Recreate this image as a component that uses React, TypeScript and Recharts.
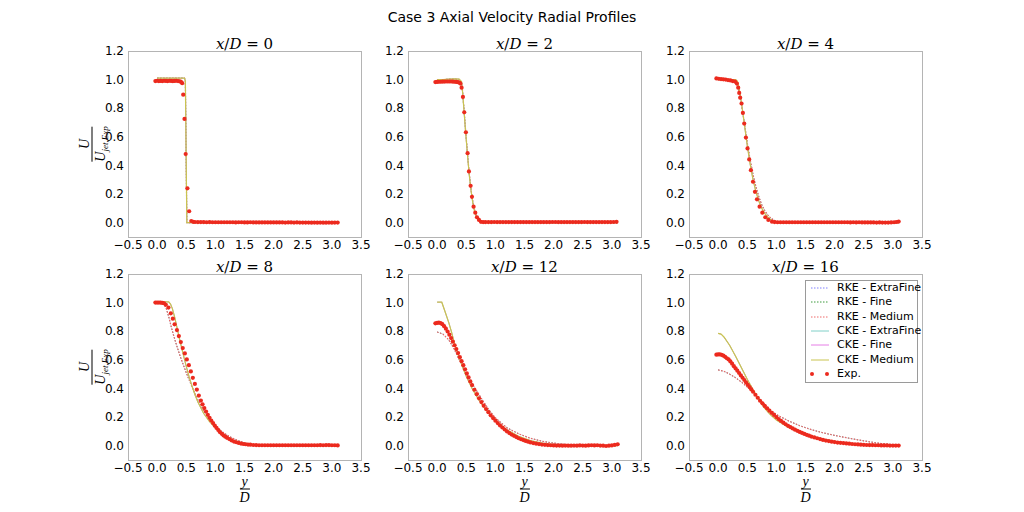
import { LineChart, Line, XAxis, YAxis } from 'recharts';

type Pt = [number, number];

const TITLE = 'Case 3 Axial Velocity Radial Profiles';
const STATIONS = [0, 2, 4, 8, 12, 16];
const X_TICKS = [-0.5, 0, 0.5, 1, 1.5, 2, 2.5, 3, 3.5];
const Y_TICKS = [0, 0.2, 0.4, 0.6, 0.8, 1.0, 1.2];
const X_DOMAIN: [number, number] = [-0.5, 3.5];
const Y_DOMAIN: [number, number] = [-0.1, 1.2];

// RKE / CKE model profiles (all three grids sit on top of each other in the picture)
const RKE_0: Pt[] = [[0, 1.01], [0.47, 1.01], [0.485, 0.99], [0.51, 0.0], [3.1, 0.0]];
const CKE_0: Pt[] = [[0, 1.01], [0.47, 1.01], [0.485, 0.99], [0.51, 0.0], [3.1, 0.0]];

const RKE_2: Pt[] = [
  [0, 1.0], [0.1, 1.0], [0.2, 1.003], [0.3, 1.004], [0.38, 1.0], [0.4, 0.995], [0.43, 0.95],
  [0.46, 0.8], [0.49, 0.64], [0.52, 0.49], [0.55, 0.35], [0.58, 0.24], [0.61, 0.155],
  [0.64, 0.095], [0.67, 0.055], [0.7, 0.03], [0.74, 0.012], [0.8, 0.003], [0.9, 0], [3.1, 0],
];
const CKE_2: Pt[] = [
  [0, 1.0], [0.1, 1.0], [0.2, 1.003], [0.3, 1.005], [0.38, 1.003], [0.42, 0.985], [0.44, 0.9],
  [0.46, 0.79], [0.49, 0.63], [0.52, 0.48], [0.55, 0.34], [0.58, 0.23], [0.61, 0.145],
  [0.64, 0.085], [0.67, 0.045], [0.7, 0.022], [0.74, 0.008], [0.8, 0.001], [0.9, 0], [3.1, 0],
];

const RKE_4: Pt[] = [
  [0, 1.0], [0.25, 1.0], [0.3, 0.99], [0.34, 0.95], [0.38, 0.87], [0.42, 0.78], [0.46, 0.67],
  [0.5, 0.56], [0.55, 0.44], [0.6, 0.335], [0.65, 0.25], [0.7, 0.18], [0.75, 0.125],
  [0.8, 0.085], [0.85, 0.055], [0.9, 0.034], [0.95, 0.02], [1.0, 0.01], [1.05, 0.005],
  [1.1, 0.002], [1.2, 0], [3.1, 0],
];
const CKE_4: Pt[] = [
  [0, 1.0], [0.1, 1.0], [0.2, 1.0], [0.3, 1.0], [0.33, 0.99], [0.36, 0.94], [0.4, 0.84],
  [0.45, 0.69], [0.5, 0.54], [0.55, 0.41], [0.6, 0.3], [0.65, 0.215], [0.7, 0.15], [0.75, 0.1],
  [0.8, 0.065], [0.85, 0.04], [0.9, 0.022], [0.95, 0.01], [1.0, 0.004], [1.05, 0.001],
  [1.1, 0], [3.1, 0],
];

const RKE_8: Pt[] = [
  [0, 1.0], [0.08, 0.998], [0.12, 0.99], [0.16, 0.955], [0.2, 0.9], [0.24, 0.835], [0.28, 0.775],
  [0.32, 0.72], [0.36, 0.67], [0.4, 0.62], [0.45, 0.565], [0.5, 0.51], [0.55, 0.46], [0.6, 0.41],
  [0.7, 0.32], [0.8, 0.245], [0.9, 0.185], [1.0, 0.14], [1.1, 0.103], [1.2, 0.074], [1.3, 0.052],
  [1.4, 0.034], [1.5, 0.02], [1.6, 0.01], [1.7, 0.004], [1.8, 0.001], [1.9, 0], [3.1, 0],
];
const CKE_8: Pt[] = [
  [0, 1.005], [0.2, 1.005], [0.23, 0.99], [0.26, 0.96], [0.3, 0.9], [0.35, 0.81], [0.4, 0.72],
  [0.45, 0.635], [0.5, 0.555], [0.55, 0.48], [0.6, 0.415], [0.65, 0.355], [0.7, 0.305], [0.8, 0.225],
  [0.9, 0.168], [1.0, 0.125], [1.1, 0.088], [1.2, 0.06], [1.3, 0.04], [1.4, 0.025], [1.5, 0.014],
  [1.6, 0.007], [1.7, 0.002], [1.8, 0], [3.1, 0],
];

const RKE_12: Pt[] = [
  [0, 0.795], [0.1, 0.78], [0.2, 0.74], [0.3, 0.67], [0.4, 0.585], [0.5, 0.505], [0.6, 0.435],
  [0.7, 0.37], [0.8, 0.305], [0.9, 0.245], [1.0, 0.195], [1.2, 0.125], [1.4, 0.083], [1.6, 0.052],
  [1.8, 0.031], [2.0, 0.018], [2.2, 0.009], [2.4, 0.004], [2.6, 0.001], [2.8, 0], [3.1, 0],
];
const CKE_12: Pt[] = [
  [0, 1.003], [0.08, 1.003], [0.15, 0.92], [0.2, 0.86], [0.25, 0.79], [0.3, 0.71], [0.35, 0.65],
  [0.4, 0.59], [0.45, 0.535], [0.5, 0.485], [0.6, 0.4], [0.7, 0.33], [0.8, 0.27], [0.9, 0.22],
  [1.0, 0.175], [1.2, 0.11], [1.4, 0.065], [1.6, 0.035], [1.8, 0.018], [2.0, 0.008], [2.2, 0.003],
  [2.4, 0], [3.1, 0],
];

const RKE_16: Pt[] = [
  [0, 0.53], [0.1, 0.52], [0.2, 0.5], [0.3, 0.475], [0.4, 0.445], [0.5, 0.41], [0.6, 0.375],
  [0.7, 0.33], [0.8, 0.29], [0.9, 0.25], [1.0, 0.218], [1.2, 0.175], [1.4, 0.14], [1.6, 0.112],
  [1.8, 0.09], [2.0, 0.072], [2.2, 0.056], [2.4, 0.041], [2.6, 0.027], [2.8, 0.015], [3.0, 0.007],
  [3.1, 0.004],
];
const CKE_16: Pt[] = [
  [0, 0.785], [0.05, 0.78], [0.1, 0.76], [0.2, 0.7], [0.3, 0.625], [0.4, 0.545], [0.5, 0.465],
  [0.6, 0.39], [0.7, 0.32], [0.8, 0.26], [0.9, 0.215], [1.0, 0.18], [1.2, 0.13], [1.4, 0.095],
  [1.6, 0.068], [1.8, 0.047], [2.0, 0.031], [2.2, 0.019], [2.4, 0.011], [2.6, 0.006], [2.8, 0.003],
  [3.1, 0.0],
];

// experimental points
const EXP_0: Pt[] = [
  [-0.03, 0.99], [0.0, 0.992], [0.03, 0.99], [0.06, 0.991], [0.09, 0.99], [0.12, 0.992], [0.15, 0.991],
  [0.18, 0.99], [0.21, 0.992], [0.24, 0.991], [0.27, 0.99], [0.3, 0.991], [0.33, 0.992], [0.36, 0.99],
  [0.39, 0.988], [0.41, 0.985], [0.43, 0.975], [0.448, 0.895], [0.47, 0.725], [0.49, 0.48],
  [0.52, 0.24], [0.55, 0.08], [0.586, 0.012], [0.62, 0.006], [0.65, 0.005], [0.7, 0.004],
  [0.75, 0.004], [0.8, 0.004], [0.85, 0.003], [0.9, 0.004], [0.95, 0.003], [1.0, 0.003],
  [1.05, 0.003], [1.1, 0.003], [1.15, 0.003], [1.2, 0.003], [1.25, 0.003], [1.3, 0.003],
  [1.35, 0.002], [1.4, 0.003], [1.45, 0.003], [1.5, 0.002], [1.55, 0.002], [1.6, 0.003],
  [1.65, 0.002], [1.7, 0.002], [1.75, 0.002], [1.8, 0.002], [1.85, 0.002], [1.9, 0.002],
  [1.95, 0.002], [2.0, 0.002], [2.05, 0.002], [2.1, 0.002], [2.15, 0.002], [2.2, 0.001],
  [2.25, 0.002], [2.3, 0.002], [2.35, 0.001], [2.4, 0.002], [2.45, 0.001], [2.5, 0.001],
  [2.55, 0.001], [2.6, 0.001], [2.65, 0.0], [2.7, 0.001], [2.75, 0.0], [2.8, 0.001], [2.85, 0.0],
  [2.9, 0.0], [2.95, 0.001], [3.0, 0.0], [3.05, 0.001], [3.1, 0.001],
];

const EXP_2: Pt[] = [
  [-0.03, 0.983], [0.0, 0.984], [0.03, 0.985], [0.06, 0.985], [0.09, 0.986], [0.12, 0.986],
  [0.15, 0.987], [0.18, 0.987], [0.21, 0.987], [0.24, 0.987], [0.27, 0.986], [0.3, 0.985],
  [0.33, 0.984], [0.36, 0.982], [0.385, 0.978], [0.4, 0.972], [0.42, 0.944], [0.443, 0.879],
  [0.466, 0.772], [0.494, 0.632], [0.523, 0.486], [0.546, 0.358], [0.575, 0.258], [0.598, 0.181],
  [0.626, 0.112], [0.655, 0.07], [0.684, 0.038], [0.718, 0.019], [0.752, 0.006], [0.79, 0.004],
  [0.83, 0.004], [0.88, 0.004], [0.93, 0.004], [0.98, 0.005], [1.03, 0.004], [1.08, 0.004],
  [1.13, 0.004], [1.18, 0.004], [1.23, 0.004], [1.28, 0.004], [1.33, 0.004], [1.38, 0.004],
  [1.43, 0.004], [1.48, 0.004], [1.53, 0.004], [1.58, 0.004], [1.63, 0.004], [1.68, 0.004],
  [1.73, 0.004], [1.78, 0.004], [1.83, 0.004], [1.88, 0.004], [1.93, 0.004], [1.98, 0.005],
  [2.03, 0.005], [2.08, 0.004], [2.13, 0.004], [2.18, 0.004], [2.23, 0.004], [2.28, 0.004],
  [2.33, 0.004], [2.38, 0.004], [2.43, 0.004], [2.48, 0.004], [2.53, 0.005], [2.58, 0.004],
  [2.63, 0.004], [2.68, 0.004], [2.73, 0.004], [2.78, 0.004], [2.83, 0.004], [2.88, 0.004],
  [2.93, 0.004], [2.98, 0.004], [3.03, 0.005], [3.08, 0.006],
];

const EXP_4: Pt[] = [
  [-0.03, 1.008], [0.01, 1.006], [0.05, 1.004], [0.09, 1.002], [0.13, 1.0], [0.17, 0.997],
  [0.21, 0.994], [0.25, 0.99], [0.29, 0.986], [0.322, 0.972], [0.345, 0.944], [0.362, 0.907],
  [0.379, 0.874], [0.402, 0.833], [0.425, 0.767], [0.448, 0.693], [0.477, 0.595], [0.505, 0.519],
  [0.534, 0.442], [0.563, 0.367], [0.598, 0.286], [0.632, 0.216], [0.667, 0.163], [0.712, 0.112],
  [0.759, 0.07], [0.81, 0.038], [0.862, 0.019], [0.925, 0.007], [0.97, 0.004], [1.02, 0.003],
  [1.07, 0.003], [1.12, 0.003], [1.17, 0.003], [1.22, 0.003], [1.27, 0.003], [1.32, 0.003],
  [1.37, 0.003], [1.42, 0.003], [1.47, 0.003], [1.52, 0.003], [1.57, 0.003], [1.62, 0.003],
  [1.67, 0.003], [1.72, 0.003], [1.77, 0.003], [1.82, 0.003], [1.87, 0.003], [1.92, 0.003],
  [1.97, 0.003], [2.02, 0.003], [2.07, 0.003], [2.12, 0.003], [2.17, 0.003], [2.22, 0.003],
  [2.27, 0.002], [2.32, 0.003], [2.37, 0.002], [2.42, 0.003], [2.47, 0.002], [2.52, 0.002],
  [2.57, 0.002], [2.62, 0.002], [2.67, 0.002], [2.72, 0.001], [2.77, 0.002], [2.82, 0.001],
  [2.87, 0.001], [2.92, 0.001], [2.97, 0.002], [3.02, 0.003], [3.06, 0.005], [3.1, 0.008],
];

const EXP_8: Pt[] = [
  [-0.03, 1.0], [0.0, 1.0], [0.03, 1.0], [0.06, 1.0], [0.09, 0.998], [0.12, 0.995], [0.15, 0.985],
  [0.195, 0.965], [0.235, 0.925], [0.27, 0.888], [0.3, 0.848], [0.34, 0.808], [0.373, 0.766],
  [0.407, 0.724], [0.44, 0.682], [0.476, 0.645], [0.51, 0.603], [0.545, 0.563], [0.579, 0.519],
  [0.613, 0.474], [0.648, 0.432], [0.682, 0.392], [0.716, 0.35], [0.751, 0.315], [0.78, 0.289],
  [0.81, 0.263], [0.84, 0.239], [0.87, 0.216], [0.9, 0.195], [0.93, 0.176], [0.96, 0.158],
  [0.99, 0.14], [1.02, 0.124], [1.05, 0.109], [1.08, 0.094], [1.11, 0.083], [1.14, 0.072],
  [1.17, 0.063], [1.2, 0.055], [1.24, 0.046], [1.28, 0.037], [1.32, 0.029], [1.36, 0.024],
  [1.4, 0.019], [1.44, 0.015], [1.48, 0.012], [1.52, 0.01], [1.56, 0.008], [1.6, 0.007],
  [1.65, 0.005], [1.7, 0.004], [1.75, 0.003], [1.8, 0.003], [1.85, 0.003], [1.9, 0.003],
  [1.95, 0.003], [2.0, 0.003], [2.05, 0.003], [2.1, 0.003], [2.15, 0.003], [2.2, 0.003],
  [2.25, 0.003], [2.3, 0.003], [2.35, 0.003], [2.4, 0.003], [2.45, 0.003], [2.5, 0.003],
  [2.55, 0.003], [2.6, 0.003], [2.65, 0.003], [2.7, 0.003], [2.75, 0.003], [2.8, 0.004],
  [2.85, 0.003], [2.9, 0.004], [2.95, 0.004], [3.0, 0.003], [3.05, 0.003], [3.1, 0.002],
];

const EXP_12: Pt[] = [
  [-0.03, 0.855], [0.0, 0.858], [0.03, 0.86], [0.06, 0.857], [0.09, 0.849], [0.12, 0.835],
  [0.15, 0.818], [0.18, 0.798], [0.21, 0.776], [0.24, 0.752], [0.27, 0.728], [0.3, 0.702],
  [0.33, 0.675], [0.36, 0.647], [0.39, 0.619], [0.42, 0.591], [0.45, 0.563], [0.48, 0.534],
  [0.51, 0.505], [0.54, 0.477], [0.57, 0.449], [0.6, 0.424], [0.64, 0.391], [0.68, 0.36],
  [0.72, 0.331], [0.76, 0.305], [0.8, 0.28], [0.84, 0.256], [0.88, 0.234], [0.92, 0.212],
  [0.96, 0.193], [1.0, 0.175], [1.04, 0.158], [1.08, 0.142], [1.12, 0.127], [1.16, 0.113],
  [1.2, 0.1], [1.24, 0.088], [1.28, 0.078], [1.32, 0.069], [1.36, 0.06], [1.4, 0.052],
  [1.44, 0.045], [1.48, 0.039], [1.52, 0.033], [1.56, 0.028], [1.6, 0.023], [1.65, 0.018],
  [1.7, 0.014], [1.75, 0.011], [1.8, 0.008], [1.85, 0.006], [1.9, 0.004], [1.95, 0.003],
  [2.0, 0.002], [2.05, 0.001], [2.1, 0.001], [2.15, 0.0], [2.2, 0.001], [2.25, 0.0], [2.3, 0.0],
  [2.35, 0.001], [2.4, 0.0], [2.45, 0.002], [2.5, 0.001], [2.55, 0.0], [2.6, 0.002], [2.65, 0.003],
  [2.7, 0.002], [2.75, 0.003], [2.8, 0.001], [2.85, 0.0], [2.9, -0.002], [2.95, 0.0], [3.0, 0.002],
  [3.05, 0.006], [3.1, 0.01],
];

const EXP_16: Pt[] = [
  [-0.03, 0.636], [0.0, 0.638], [0.03, 0.638], [0.06, 0.635], [0.09, 0.629], [0.12, 0.621],
  [0.15, 0.611], [0.18, 0.603], [0.21, 0.589], [0.24, 0.573], [0.27, 0.556], [0.3, 0.54],
  [0.33, 0.524], [0.36, 0.508], [0.39, 0.491], [0.42, 0.475], [0.45, 0.459], [0.48, 0.442],
  [0.51, 0.426], [0.54, 0.41], [0.57, 0.393], [0.6, 0.377], [0.64, 0.356], [0.68, 0.335],
  [0.72, 0.314], [0.76, 0.296], [0.8, 0.278], [0.84, 0.261], [0.88, 0.245], [0.92, 0.23],
  [0.96, 0.215], [1.0, 0.2], [1.04, 0.186], [1.08, 0.173], [1.12, 0.161], [1.16, 0.15],
  [1.2, 0.139], [1.24, 0.13], [1.28, 0.121], [1.32, 0.112], [1.36, 0.104], [1.4, 0.096],
  [1.44, 0.089], [1.48, 0.082], [1.52, 0.076], [1.56, 0.07], [1.6, 0.064], [1.65, 0.058],
  [1.7, 0.052], [1.75, 0.046], [1.8, 0.04], [1.85, 0.036], [1.9, 0.032], [1.95, 0.028],
  [2.0, 0.025], [2.05, 0.022], [2.1, 0.02], [2.15, 0.018], [2.2, 0.016], [2.25, 0.014],
  [2.3, 0.012], [2.35, 0.01], [2.4, 0.009], [2.45, 0.007], [2.5, 0.006], [2.55, 0.005],
  [2.6, 0.004], [2.65, 0.004], [2.7, 0.003], [2.75, 0.003], [2.8, 0.002], [2.85, 0.002],
  [2.9, 0.002], [2.95, 0.001], [3.0, 0.001], [3.05, 0.001], [3.1, 0.001],
];

const RKE = [RKE_0, RKE_2, RKE_4, RKE_8, RKE_12, RKE_16];
const CKE = [CKE_0, CKE_2, CKE_4, CKE_8, CKE_12, CKE_16];
const EXP = [EXP_0, EXP_2, EXP_4, EXP_8, EXP_12, EXP_16];

// the ExtraFine / Fine curves are hidden under the Medium ones, so they get a thinner stroke
const SERIES = [
  { name: 'RKE - ExtraFine', model: 'RKE', color: '#8080ff', dotted: true, width: 0.6 },
  { name: 'RKE - Fine', model: 'RKE', color: '#3c9a3c', dotted: true, width: 0.6 },
  { name: 'RKE - Medium', model: 'RKE', color: '#ee6a6a', dotted: true, width: 1.2 },
  { name: 'CKE - ExtraFine', model: 'CKE', color: '#80d0c8', dotted: false, width: 0.6 },
  { name: 'CKE - Fine', model: 'CKE', color: '#e67fe6', dotted: false, width: 0.6 },
  { name: 'CKE - Medium', model: 'CKE', color: '#c9c450', dotted: false, width: 1.2 },
];
const EXP_NAME = 'Exp.';
const EXP_COLOR = '#ec2a1e';

// layout of the 2x3 grid
const COL_LEFT = [128, 408, 689];
const ROW_TOP = [51, 274];
const PLOT_W = 233;
const PLOT_H = 186;
const PAD_L = 50;
const PAD_T = 20;
const PAD_R = 10;
const PAD_B = 25;

const SANS = '"DejaVu Sans", sans-serif';
const SERIF = '"DejaVu Serif", serif';
const LABEL_SERIF = '"Liberation Serif", serif';
const FRAME = '#b4b4b4';

const to_rows = (pts: Pt[]) => pts.map(([x, y]) => ({ x, y }));
const fmt_x = (v: number) => (v < 0 ? `\u2212${Math.abs(v).toFixed(1)}` : v.toFixed(1));
const fmt_y = (v: number) => v.toFixed(1);

function Panel({ index }: { index: number }) {
  const row = Math.floor(index / 3);
  const col = index % 3;
  const rke = to_rows(RKE[index]);
  const cke = to_rows(CKE[index]);
  const exp = to_rows(EXP[index]);
  const tick_style = { fill: '#000', fontSize: 12, fontFamily: SANS };
  const tick_line = { stroke: FRAME, strokeWidth: 1 };

  return (
    <div style={{ position: 'absolute', left: COL_LEFT[col] - PAD_L, top: ROW_TOP[row] - PAD_T }}>
      <LineChart
        width={PLOT_W + PAD_L + PAD_R}
        height={PLOT_H + PAD_T + PAD_B}
        margin={{ top: PAD_T, right: PAD_R, bottom: 0, left: 0 }}
      >
        <XAxis
          dataKey="x"
          type="number"
          domain={X_DOMAIN}
          ticks={X_TICKS}
          interval={0}
          allowDataOverflow
          height={PAD_B}
          axisLine={false}
          tickLine={false}
          tickSize={0}
          tickMargin={3}
          tick={tick_style}
          tickFormatter={fmt_x}
        />
        <YAxis
          type="number"
          domain={Y_DOMAIN}
          ticks={Y_TICKS}
          interval={0}
          allowDataOverflow
          width={PAD_L}
          axisLine={false}
          tickLine={false}
          tickSize={0}
          tickMargin={4}
          tick={tick_style}
          tickFormatter={fmt_y}
        />
        {/* inward tick marks on all four sides, matplotlib classic style */}
        {(['bottom', 'top'] as const).map((side) => (
          <XAxis
            key={side}
            xAxisId={`tick_${side}`}
            orientation={side}
            mirror
            type="number"
            domain={X_DOMAIN}
            ticks={X_TICKS}
            interval={0}
            allowDataOverflow
            axisLine={false}
            tickLine={tick_line}
            tickSize={4}
            tick={false}
          />
        ))}
        {(['left', 'right'] as const).map((side) => (
          <YAxis
            key={side}
            yAxisId={`tick_${side}`}
            orientation={side}
            mirror
            type="number"
            domain={Y_DOMAIN}
            ticks={Y_TICKS}
            interval={0}
            allowDataOverflow
            axisLine={false}
            tickLine={tick_line}
            tickSize={4}
            tick={false}
          />
        ))}
        {SERIES.map((s) => (
          <Line
            key={s.name}
            data={s.model === 'RKE' ? rke : cke}
            dataKey="y"
            type="linear"
            stroke={s.color}
            strokeWidth={s.width}
            strokeDasharray={s.dotted ? '1.5 1.5' : undefined}
            dot={false}
            activeDot={false}
            isAnimationActive={false}
          />
        ))}
        <Line
          data={exp}
          dataKey="y"
          stroke="none"
          dot={{ r: 2.1, fill: EXP_COLOR, stroke: 'none' }}
          activeDot={false}
          isAnimationActive={false}
        />
      </LineChart>
      {/* axes frame */}
      <div
        style={{
          position: 'absolute',
          left: PAD_L,
          top: PAD_T,
          width: PLOT_W + 1,
          height: PLOT_H + 1,
          boxSizing: 'border-box',
          border: `1px solid ${FRAME}`,
          pointerEvents: 'none',
        }}
      />
    </div>
  );
}

function Frac({ num, den, cx, cy, rotate }: { num: React.ReactNode; den: React.ReactNode; cx: number; cy: number; rotate?: boolean }) {
  return (
    <div
      style={{
        position: 'absolute',
        left: cx,
        top: cy,
        transform: `translate(-50%, -50%)${rotate ? ' rotate(-90deg)' : ''}`,
        display: 'flex',
        flexDirection: 'column',
        alignItems: 'center',
        fontFamily: LABEL_SERIF,
        fontStyle: 'italic',
        fontSize: 14,
        lineHeight: '11px',
        whiteSpace: 'nowrap',
      }}
    >
      <div style={{ paddingBottom: 2 }}>{num}</div>
      <div style={{ alignSelf: 'stretch', borderTop: '1px solid #000' }} />
      <div style={{ paddingTop: 2 }}>{den}</div>
    </div>
  );
}

function LegendBox() {
  return (
    <div
      style={{
        position: 'absolute',
        left: 805,
        top: 280,
        width: 113,
        height: 103,
        boxSizing: 'border-box',
        border: '1px solid #9a9a9a',
        background: '#fff',
        fontFamily: SANS,
        fontSize: 11,
        whiteSpace: 'nowrap',
      }}
    >
      {[...SERIES.map((s) => s.name), EXP_NAME].map((name, i) => {
        const s = SERIES[i];
        return (
          <div key={name} style={{ position: 'absolute', left: 0, top: i * 14.3, height: 14.3, width: '100%' }}>
            <svg width={24} height={14} style={{ position: 'absolute', left: 3, top: 0 }}>
              {s ? (
                <line
                  x1={2}
                  x2={20}
                  y1={7}
                  y2={7}
                  stroke={s.color}
                  strokeWidth={1}
                  strokeDasharray={s.dotted ? '1.5 1.5' : undefined}
                />
              ) : (
                <>
                  <circle cx={3} cy={7} r={2} fill={EXP_COLOR} />
                  <circle cx={18} cy={7} r={2} fill={EXP_COLOR} />
                </>
              )}
            </svg>
            <span style={{ position: 'absolute', left: 31, top: 0, lineHeight: '14px' }}>{name}</span>
          </div>
        );
      })}
    </div>
  );
}

export default function App() {
  return (
    <div style={{ position: 'absolute', left: 0, top: 0, width: 1024, height: 512, background: '#fff', overflow: 'hidden' }}>
      <div
        style={{
          position: 'absolute',
          left: 0,
          top: 8,
          width: 1024,
          textAlign: 'center',
          fontFamily: SANS,
          fontSize: 14,
          lineHeight: '18px',
        }}
      >
        {TITLE}
      </div>
      {STATIONS.map((st, i) => {
        const col = i % 3;
        const row = Math.floor(i / 3);
        return (
          <div key={`t${st}`}>
            <Panel index={i} />
            <div
              style={{
                position: 'absolute',
                left: COL_LEFT[col],
                width: PLOT_W,
                top: ROW_TOP[row] - 16,
                textAlign: 'center',
                fontFamily: SERIF,
                fontSize: 15,
                lineHeight: '18px',
                whiteSpace: 'nowrap',
              }}
            >
              <i>x</i>/<i>D</i> = {st}
            </div>
          </div>
        );
      })}
      {ROW_TOP.map((top) => (
        <Frac
          key={`yl${top}`}
          rotate
          cx={93}
          cy={top + PLOT_H * 0.5}
          num="U"
          den={
            <span>
              U<sub style={{ fontSize: 9, verticalAlign: 'baseline', position: 'relative', top: 3 }}>jet,Exp</sub>
            </span>
          }
        />
      ))}
      {COL_LEFT.map((left) => (
        <Frac key={`xl${left}`} cx={left + PLOT_W / 2} cy={489} num="y" den="D" />
      ))}
      <LegendBox />
    </div>
  );
}
